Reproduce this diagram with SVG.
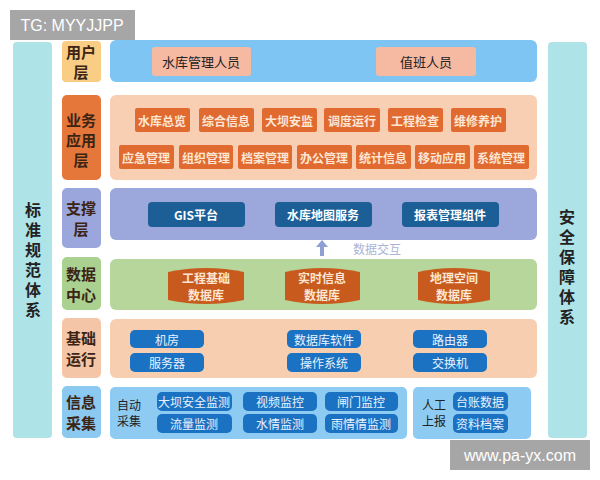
<svg xmlns="http://www.w3.org/2000/svg" width="600" height="480" viewBox="0 0 600 480">
<defs>
<style>
text{font-family:"Noto Sans CJK SC","Noto Sans",sans-serif;text-anchor:middle;dominant-baseline:central}
.lbl{font-size:15px;font-weight:bold;fill:#3b2414}
.side{font-size:16px;font-weight:bold;fill:#222;writing-mode:vertical-rl;letter-spacing:4px}
.org{fill:#e06a30}
.orgt{font-size:12px;fill:#fde6d4;font-weight:bold}
.dblue{fill:#1c5f97}
.wt{font-size:12px;fill:#fff;font-weight:bold}
.blue{fill:#1b72c2}
.bt{font-size:12px;fill:#e8f2ff}
.cyl{fill:#c75a1c}
.cylt{font-size:12px;fill:#fde6d4;font-weight:bold}
.plain{font-size:12px;fill:#222}
</style>
</defs>
<rect width="600" height="480" fill="#fff"/>
<g id="std"><rect x="13" y="42" width="39" height="396" rx="4" fill="#aee3e8"/>
<text class="side" x="33" y="262">标准规范体系</text></g>
<g id="sec"><rect x="548" y="42" width="39" height="396" rx="4" fill="#aee3e8"/>
<text class="side" x="567" y="269">安全保障体系</text></g>

<g id="user">
<rect x="62" y="41" width="39" height="41" rx="4" fill="#f9cd84"/>
<text class="lbl" x="81" y="51">用户</text><text class="lbl" x="81" y="71">层</text>
<rect x="110" y="40" width="427" height="42" rx="6" fill="#7fc5f4"/>
<rect x="152" y="47" width="99" height="29" rx="3" fill="#f6b9a2"/><text class="plain" x="201" y="61" style="font-size:13px">水库管理人员</text>
<rect x="376" y="47" width="100" height="29" rx="3" fill="#f6b9a2"/><text class="plain" x="426" y="61" style="font-size:13px">值班人员</text>
</g>

<g id="biz">
<rect x="62" y="95" width="39" height="85" rx="5" fill="#e5773a"/>
<text class="lbl" x="81" y="119">业务</text><text class="lbl" x="81" y="139">应用</text><text class="lbl" x="81" y="159">层</text>
<rect x="110" y="95" width="427" height="85" rx="6" fill="#f8cfb2"/>
<rect class="org" x="135" y="108" width="55" height="24" rx="2"/><text class="orgt" x="162" y="120">水库总览</text>
<rect class="org" x="199" y="108" width="55" height="24" rx="2"/><text class="orgt" x="226" y="120">综合信息</text>
<rect class="org" x="262" y="108" width="55" height="24" rx="2"/><text class="orgt" x="289" y="120">大坝安监</text>
<rect class="org" x="324" y="108" width="56" height="24" rx="2"/><text class="orgt" x="352" y="120">调度运行</text>
<rect class="org" x="388" y="108" width="55" height="24" rx="2"/><text class="orgt" x="415" y="120">工程检查</text>
<rect class="org" x="451" y="108" width="55" height="24" rx="2"/><text class="orgt" x="478" y="120">维修养护</text>
<rect class="org" x="119" y="145" width="55" height="24" rx="2"/><text class="orgt" x="146" y="157">应急管理</text>
<rect class="org" x="179" y="145" width="54" height="24" rx="2"/><text class="orgt" x="206" y="157">组织管理</text>
<rect class="org" x="238" y="145" width="54" height="24" rx="2"/><text class="orgt" x="265" y="157">档案管理</text>
<rect class="org" x="297" y="145" width="55" height="24" rx="2"/><text class="orgt" x="324" y="157">办公管理</text>
<rect class="org" x="356" y="145" width="55" height="24" rx="2"/><text class="orgt" x="383" y="157">统计信息</text>
<rect class="org" x="415" y="145" width="55" height="24" rx="2"/><text class="orgt" x="442" y="157">移动应用</text>
<rect class="org" x="474" y="145" width="55" height="24" rx="2"/><text class="orgt" x="501" y="157">系统管理</text>
</g>

<g id="support">
<rect x="62" y="188" width="39" height="60" rx="5" fill="#9ba6dc"/>
<text class="lbl" x="81" y="207">支撑</text><text class="lbl" x="81" y="228">层</text>
<rect x="110" y="188" width="427" height="52" rx="6" fill="#9ca8dc"/>
<rect class="dblue" x="148" y="202" width="97" height="25" rx="4"/><text class="wt" x="196" y="214">GIS平台</text>
<rect class="dblue" x="275" y="202" width="97" height="25" rx="4"/><text class="wt" x="323" y="214">水库地图服务</text>
<rect class="dblue" x="402" y="202" width="97" height="25" rx="4"/><text class="wt" x="450" y="214">报表管理组件</text>
</g>

<g id="connectors">
<rect x="320" y="246" width="4" height="10" fill="#8ea0d4"/>
<path d="M316 247 L322 240 L328 247 Z" fill="#8ea0d4"/>
<text x="377" y="248" style="font-size:12px;fill:#aab4d6">数据交互</text>
</g>

<g id="data">
<rect x="62" y="257" width="39" height="53" rx="5" fill="#aad18f"/>
<text class="lbl" x="81" y="273">数据</text><text class="lbl" x="81" y="294">中心</text>
<rect x="110" y="259" width="427" height="51" rx="6" fill="#b7d69c"/>
<path class="cyl" d="M168 272 Q206 264 244 272 L244 300 Q206 308 168 300 Z"/><text class="cylt" x="206" y="277">工程基础</text><text class="cylt" x="206" y="294">数据库</text>
<path class="cyl" d="M285 272 Q322 264 360 272 L360 300 Q322 308 285 300 Z"/><text class="cylt" x="322" y="277">实时信息</text><text class="cylt" x="322" y="294">数据库</text>
<path class="cyl" d="M418 272 Q454 264 490 272 L490 300 Q454 308 418 300 Z"/><text class="cylt" x="454" y="277">地理空间</text><text class="cylt" x="454" y="294">数据库</text>
</g>

<g id="base">
<rect x="62" y="318" width="39" height="60" rx="5" fill="#f5c5a7"/>
<text class="lbl" x="81" y="337">基础</text><text class="lbl" x="81" y="358">运行</text>
<rect x="110" y="319" width="427" height="59" rx="6" fill="#f8ceb1"/>
<rect class="blue" x="130" y="330" width="74" height="18" rx="5"/><text class="bt" x="167" y="339">机房</text>
<rect class="blue" x="130" y="353" width="74" height="19" rx="5"/><text class="bt" x="167" y="362">服务器</text>
<rect class="blue" x="287" y="330" width="74" height="18" rx="5"/><text class="bt" x="324" y="339">数据库软件</text>
<rect class="blue" x="287" y="353" width="74" height="19" rx="5"/><text class="bt" x="324" y="362">操作系统</text>
<rect class="blue" x="413" y="330" width="74" height="18" rx="5"/><text class="bt" x="450" y="339">路由器</text>
<rect class="blue" x="413" y="353" width="74" height="19" rx="5"/><text class="bt" x="450" y="362">交换机</text>
</g>

<g id="collect">
<rect x="62" y="386" width="39" height="52" rx="5" fill="#8bc9f0"/>
<text class="lbl" x="81" y="401">信息</text><text class="lbl" x="81" y="422">采集</text>
<rect x="110" y="387" width="297" height="52" rx="5" fill="#8ecbf2"/>
<rect x="413" y="387" width="118" height="52" rx="5" fill="#8ecbf2"/>
<text class="plain" x="129" y="404">自动</text><text class="plain" x="129" y="420">采集</text>
<rect class="blue" x="157" y="392" width="75" height="19" rx="5"/><text class="bt" x="194" y="401">大坝安全监测</text>
<rect class="blue" x="157" y="414" width="75" height="19" rx="5"/><text class="bt" x="194" y="423">流量监测</text>
<rect class="blue" x="243" y="392" width="74" height="19" rx="5"/><text class="bt" x="280" y="401">视频监控</text>
<rect class="blue" x="243" y="414" width="74" height="19" rx="5"/><text class="bt" x="280" y="423">水情监测</text>
<rect class="blue" x="325" y="392" width="73" height="19" rx="5"/><text class="bt" x="361" y="401">闸门监控</text>
<rect class="blue" x="325" y="414" width="73" height="19" rx="5"/><text class="bt" x="361" y="423">雨情情监测</text>
<text class="plain" x="434" y="404">人工</text><text class="plain" x="434" y="420">上报</text>
<rect class="blue" x="453" y="392" width="55" height="19" rx="5"/><text class="bt" x="480" y="401">台账数据</text>
<rect class="blue" x="453" y="414" width="55" height="19" rx="5"/><text class="bt" x="480" y="423">资料档案</text>
</g>

<g id="wm1"><rect x="10" y="10" width="125" height="30" fill="#a6a6a6"/><text x="72" y="25" style="font-family:'Liberation Sans',sans-serif;font-size:16px;fill:#fff">TG: MYYJJPP</text></g>
<g id="wm2"><rect x="450" y="440" width="140" height="30" fill="#a6a6a6"/><text x="520" y="455" style="font-family:'Liberation Sans',sans-serif;font-size:16px;fill:#fff">www.pa-yx.com</text></g>
</svg>
